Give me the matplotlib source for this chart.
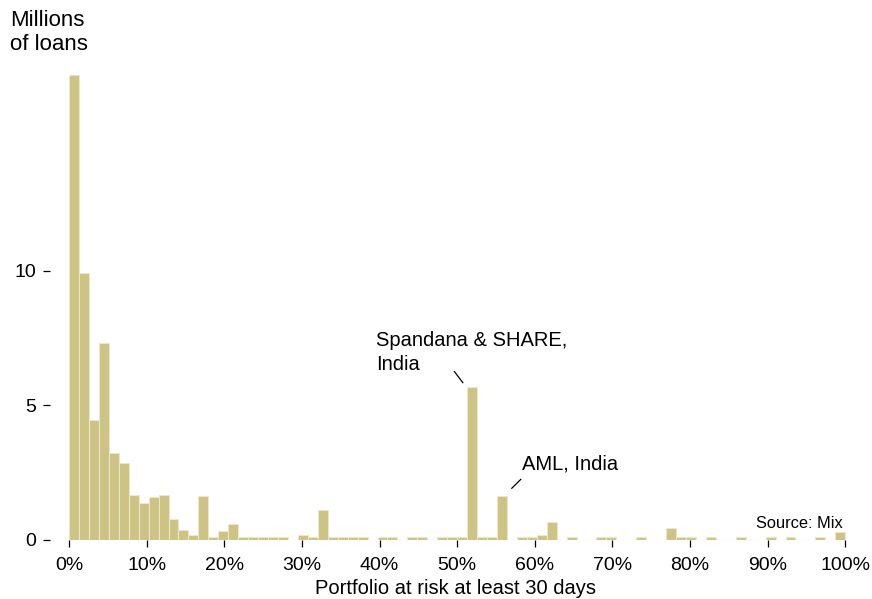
import numpy as np
import matplotlib.pyplot as plt

plt.rcParams['font.family'] = ['Liberation Sans', 'DejaVu Sans']

# histogram of borrowers by PAR30, 78 equal bins from 0 to 100 %
n_bins = 78
loans = [17.27, 9.90, 4.46, 7.30, 3.24, 2.85, 1.66, 1.39, 1.59, 1.66,
         0.78, 0.38, 0.17, 1.65, 0.12, 0.33, 0.59, 0.12, 0.12, 0.12,
         0.12, 0.12, 0.0, 0.20, 0.12, 1.11, 0.12, 0.12, 0.12, 0.12,
         0.0, 0.12, 0.12, 0.0, 0.12, 0.12, 0.0, 0.12, 0.12, 0.12,
         5.66, 0.12, 0.12, 1.65, 0.0, 0.12, 0.12, 0.19, 0.66, 0.0,
         0.12, 0.0, 0.0, 0.12, 0.12, 0.0, 0.0, 0.12, 0.0, 0.0,
         0.43, 0.12, 0.12, 0.0, 0.12, 0.0, 0.0, 0.12, 0.0, 0.0,
         0.12, 0.0, 0.12, 0.0, 0.0, 0.12, 0.0, 0.31]
xticks = list(range(0, 101, 10))
xlabels = [f'{t}%' for t in xticks]
yticks = [0, 5, 10]

width = 100 / n_bins
left = np.arange(n_bins) * width

fig = plt.figure(figsize=(8.72, 5.99), dpi=100)
ax = fig.add_axes([50 / 872, 59 / 599, 810 / 872, 485 / 599])

ax.bar(left, loans, width=width, align='edge', color='#ccc385',
       edgecolor='#ece7c8', linewidth=0.8)

ax.set_xlim(-2.45, 101.9)
ax.set_ylim(0, 18.0)
for s in ax.spines.values():
    s.set_visible(False)

ax.set_xticks(xticks)
ax.set_xticklabels(xlabels)
ax.set_yticks(yticks)
ax.tick_params(axis='both', labelsize=14, length=5, width=0.9, color='black')
ax.tick_params(axis='x', pad=7)
ax.tick_params(axis='y', pad=5)
ax.set_xlabel('Portfolio at risk at least 30 days', fontsize=14.5, labelpad=4)

fig.text(10 / 872, 1 - 10 / 599, 'Millions\nof loans', fontsize=16,
         va='top', ha='left', linespacing=1.2)

ax.text(39.6, 7.75, 'Spandana & SHARE,\nIndia', fontsize=14.5, va='top',
        ha='left', linespacing=1.3)
ax.plot([49.65, 50.73], [6.25, 5.84], color='black', lw=0.9)
ax.text(58.4, 2.62, 'AML, India', fontsize=14.5, va='baseline', ha='left')
ax.plot([57.04, 58.2], [1.92, 2.25], color='black', lw=0.9)
ax.text(88.5, 0.45, 'Source: Mix', fontsize=11.8, va='baseline', ha='left')

fig.savefig('out.png', dpi=100)
